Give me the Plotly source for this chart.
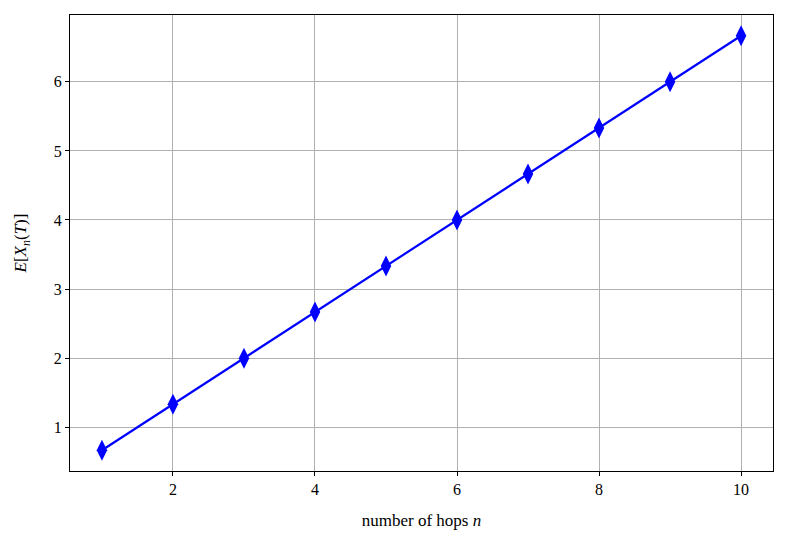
import plotly.graph_objects as go

hops = [1, 2, 3, 4, 5, 6, 7, 8, 9, 10]
expected_x = [0.667, 1.333, 2.0, 2.667, 3.333, 4.0, 4.667, 5.333, 6.0, 6.667]
x_ticks = [2, 4, 6, 8, 10]
y_ticks = [1, 2, 3, 4, 5, 6]

font_family = "Liberation Serif, DejaVu Serif, serif"

fig = go.Figure()
fig.add_trace(go.Scatter(
    x=hops, y=expected_x,
    mode="lines+markers",
    line=dict(color="#0000ff", width=2.2),
    marker=dict(symbol="diamond-tall", size=15, color="#0000ff"),
    showlegend=False,
))

axis_common = dict(
    showgrid=True, gridcolor="#b0b0b0", gridwidth=1,
    showline=True, linecolor="black", linewidth=1, mirror=True,
    ticks="outside", ticklen=4, tickcolor="black",
    zeroline=False,
    tickfont=dict(family=font_family, size=16, color="black"),
)

# page body adds an 8px offset, margins compensate for it
fig.update_layout(
    width=789, height=548,
    paper_bgcolor="white", plot_bgcolor="white",
    margin=dict(l=62, r=24, t=7, b=85),
    font=dict(family=font_family, color="black"),
    xaxis=dict(range=[0.55, 10.45], tickvals=x_ticks,
               title=dict(text="number of hops <i>n</i>", font=dict(size=17), standoff=16),
               **axis_common),
    yaxis=dict(range=[0.367, 6.967], tickvals=y_ticks,
               title=dict(text="<i>E</i>[<i>X</i><sub><i>n</i></sub>(<i>T</i>)]", font=dict(size=17), standoff=22),
               **axis_common),
)

fig.write_html("out.html")
